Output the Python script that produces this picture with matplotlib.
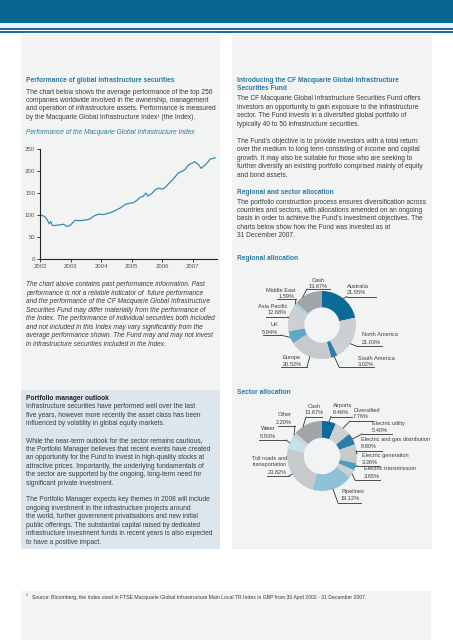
import matplotlib
matplotlib.use("Agg")
import matplotlib.pyplot as plt
from matplotlib.patches import Rectangle
from matplotlib.lines import Line2D
import numpy as np

plt.rcParams['font.family'] = ['Liberation Sans', 'DejaVu Sans']

W, H = 453, 640

# --- data -------------------------------------------------------------
years = [2002.00, 2002.14, 2002.22, 2002.30, 2002.35, 2002.41, 2002.60, 2002.77,
         2002.88, 2002.98, 2003.15, 2003.31, 2003.53, 2003.64, 2003.75, 2003.91,
         2004.08, 2004.30, 2004.46, 2004.63, 2004.79, 2004.95, 2005.06, 2005.17,
         2005.28, 2005.39, 2005.47, 2005.53, 2005.67, 2005.77, 2005.88, 2005.99,
         2006.10, 2006.21, 2006.32, 2006.43, 2006.54, 2006.65, 2006.76, 2006.87,
         2007.07, 2007.20, 2007.28, 2007.42, 2007.58, 2007.74]
index_vals = [100.5, 97, 91, 80, 85, 76, 77, 79,
              74, 76, 88, 87, 89, 91, 97, 102,
              101, 105, 110, 116, 124, 127, 128, 133,
              140, 143, 150, 143, 149, 157, 161, 159,
              162, 171, 178, 187, 196, 199, 204, 214,
              221, 214, 206, 214, 227, 230]
year_ticks = [2002, 2003, 2004, 2005, 2006, 2007]
value_ticks = [0, 50, 100, 150, 200, 250]

region_names = ["Australia", "North America", "South America", "Europe", "UK",
                "Asia Pacific", "Middle East", "Cash"]
region_pct = [21.55, 21.03, 3.02, 20.52, 5.94, 12.68, 1.59, 13.67]
region_cols = ['#0b6a97', '#cdd0d2', '#2a7fa8', '#c7cacd', '#5ea8c8',
               '#cdd0d2', '#a6cfe0', '#a2a5a7']

sector_names = ["Airports", "Diversified", "Electric utility",
                "Electric and gas distribution", "Electric generation",
                "Electric transmission", "Pipelines",
                "Toll roads and\ntransportation", "Water", "Other", "Cash"]
sector_pct = [6.46, 7.76, 5.40, 8.80, 3.36, 3.65, 19.12, 23.82, 5.93, 2.20, 13.67]
sector_cols = ['#0b6a97', '#cdd0d2', '#2a7fa8', '#c7cacd', '#4f9cc2', '#cdd0d2',
               '#8fc1d9', '#c7cacd', '#c5e1eb', '#cdd0d2', '#a2a5a7']

# --- helpers (pixel coords, y from top) ----------------------------------
fig = plt.figure(figsize=(W / 100, H / 100), dpi=100)
fig.patch.set_facecolor('white')

def fx(x):
    return x / W

def fy(y):
    return 1 - y / H

def box(x0, y0, x1, y1, color):
    fig.add_artist(Rectangle((fx(x0), fy(y1)), fx(x1 - x0), (y1 - y0) / H,
                             transform=fig.transFigure, color=color, lw=0, zorder=0))

def seg(pts, color='#333333', lw=0.6):
    xs = [fx(p[0]) for p in pts]
    ys = [fy(p[1]) for p in pts]
    fig.add_artist(Line2D(xs, ys, transform=fig.transFigure, color=color, lw=lw))

BODY = '#3c3c3c'
TEAL = '#2a7aa6'
FS = 4.75
STEP = 8.45

def lines(x, y0, txt, **kw):
    kw.setdefault('fontsize', FS)
    kw.setdefault('color', BODY)
    for i, t in enumerate(txt):
        if t:
            fig.text(fx(x), fy(y0 + i * STEP), t, va='center', ha='left', **kw)

# --- page furniture -------------------------------------------------------
box(0, 0, W, 23, '#0a6691')
box(0, 23, W, 28, '#e3f3f9')
box(0, 28, W, 29.5, '#1f6e96')
box(0, 31, W, 32.5, '#1f6e96')
box(21, 35, 220, 390, '#f2f3f3')
box(21, 390, 220, 549, '#dce6ec')
box(232, 35, 432, 549, '#f2f3f3')
box(21, 591, 431, 640, '#f2f3f3')

# --- left column ----------------------------------------------------------
lines(26, 80, ["Performance of global infrastructure securities"], color=TEAL,
      fontweight='bold')
lines(26, 92, ["The chart below shows the average performance of the top 256",
               "companies worldwide involved in the ownership, management",
               "and operation of infrastructure assets. Performance is measured",
               "by the Macquarie Global Infrastructure Index\u00b9 (the Index)."])
lines(26, 133, ["Performance of the Macquarie Global Infrastructure Index"],
      color=TEAL, style='italic')

ax = fig.add_axes([fx(40), fy(259), 177 / W, 110 / H])
ax.patch.set_alpha(0)
ax.plot(years, index_vals, color='#3b8bab', lw=0.9)
ax.set_xlim(2002, 2007.8)
ax.set_ylim(0, 250)
ax.set_xticks(year_ticks)
ax.set_yticks(value_ticks)
for s in ['top', 'right']:
    ax.spines[s].set_visible(False)
for s in ['left', 'bottom']:
    ax.spines[s].set_linewidth(0.8)
    ax.spines[s].set_color('#222222')
ax.tick_params(labelsize=4.3, colors='#222222', labelcolor='#555555',
               length=2, width=0.6, pad=1.5)

lines(26, 285, ["The chart above contains past performance information. Past",
                "performance is not a reliable indicator of  future performance",
                "and the performance of the CF Macquarie Global Infrastructure",
                "Securities Fund may differ materially from the performance of",
                "the Index. The performance of individual securities both included",
                "and not included in this Index may vary significantly from the",
                "average performance shown. The Fund may and may not invest",
                "in infrastructure securities included in the Index."],
      style='italic')

lines(26, 398, ["Portfolio manager outlook"], color='#222222', fontweight='bold')
lines(26, 407, ["Infrastructure securities have performed well over the last",
                "five years, however more recently the asset class has been",
                "influenced by volatility in global equity markets.",
                "",
                "While the near-term outlook for the sector remains cautious,",
                "the Portfolio Manager believes that recent events have created",
                "an opportunity for the Fund to invest in high-quality stocks at",
                "attractive prices. Importantly, the underlying fundamentals of",
                "the sector are supported by the ongoing, long-term need for",
                "significant private investment.",
                "",
                "The Portfolio Manager expects key themes in 2008 will include",
                "ongoing investment in the infrastructure projects around",
                "the world, further government privatisations and new initial",
                "public offerings. The substantial capital raised by dedicated",
                "infrastructure investment funds in recent years is also expected",
                "to have a positive impact."])

# --- right column ---------------------------------------------------------
lines(237, 80, ["Introducing the CF Macquarie Global Infrastructure",
                "Securities Fund"], color=TEAL, fontweight='bold')
lines(237, 99, ["The CF Macquarie Global Infrastructure Securities Fund offers",
                "investors an opportunity to gain exposure to the infrastructure",
                "sector. The Fund invests in a diversified global portfolio of",
                "typically 40 to 50 infrastructure securities.",
                "",
                "The Fund\u2019s objective is to provide investors with a total return",
                "over the medium to long term consisting of income and capital",
                "growth. It may also be suitable for those who are seeking to",
                "further diversify an existing portfolio comprised mainly of equity",
                "and bond assets."])
lines(237, 192, ["Regional and sector allocation"], color=TEAL, fontweight='bold')
lines(237, 202, ["The portfolio construction process ensures diversification across",
                 "countries and sectors, with allocations amended on an ongoing",
                 "basis in order to achieve the Fund\u2019s investment objectives. The",
                 "charts below show how the Fund was invested as at",
                 "31 December 2007."])
lines(237, 259, ["Regional allocation"], color=TEAL, fontweight='bold')
lines(237, 393, ["Sector allocation"], color=TEAL, fontweight='bold')

# --- donuts ---------------------------------------------------------------
LFS = 4.1

def donut(cx, cy, r, vals, cols, names, layout):
    dax = fig.add_axes([fx(cx - r), fy(cy + r), 2 * r / W, 2 * r / H])
    wedges, _ = dax.pie(vals, colors=cols, startangle=90, counterclock=False,
                        radius=1, wedgeprops=dict(width=0.48, lw=0))
    dax.set_xlim(-1, 1)
    dax.set_ylim(-1, 1)
    dax.axis('off')
    for w, name, val, lay in zip(wedges, names, vals, layout):
        tx, ty, ha, ux0, ux1, uy, end, tip = lay
        th = np.deg2rad((w.theta1 + w.theta2) / 2 + tip)
        px = cx + r * np.cos(th)
        py = cy - r * np.sin(th)
        nl = name.count("\n")
        fig.text(fx(tx), fy(ty + 3.5 * nl), name, ha=ha, va='center', fontsize=LFS,
                 color=BODY, linespacing=1.2)
        fig.text(fx(tx), fy(ty + 7 * (nl + 1)), f"{val:.2f}%", ha=ha, va='center',
                 fontsize=LFS, color=BODY)
        seg([(ux0, uy), (ux1, uy)])
        ex = ux0 if end == 'l' else ux1
        seg([(ex, uy), (px, py)])

# text x, text y, align, underline x0, x1, y, which end joins, angle tweak
region_layout = [
    (347, 286, 'left', 347, 376, 296.5, 'l', 0),
    (362, 335, 'left', 356, 382, 346, 'l', -8),
    (358, 358, 'left', 339, 374, 367, 'l', 0),
    (292, 357, 'center', 281, 307, 367, 'r', 0),
    (278, 325, 'right', 263, 280, 335, 'r', 0),
    (287, 306, 'right', 266, 288, 317, 'r', 0),
    (295, 290, 'right', 277, 296, 299, 'r', 0),
    (318, 280, 'center', 307, 330, 289, 'l', 10),
]
sector_layout = [
    (333, 405, 'left', 331, 352, 416.5, 'l', 0),
    (353, 410, 'left', 350, 373, 421, 'l', 0),
    (372, 423, 'left', 362, 392, 434, 'l', 0),
    (361, 440, 'left', 356, 382, 451, 'l', 0),
    (362, 455, 'left', 357, 380, 465.5, 'l', 0),
    (364, 469, 'left', 355, 380, 480, 'l', 0),
    (341, 492, 'left', 338, 361, 503, 'l', 0),
    (287, 458, 'right', 267, 289, 476, 'r', 0),
    (276, 429, 'right', 259, 286, 440, 'r', 0),
    (292, 415, 'right', 278, 295, 426, 'r', 0),
    (314, 406, 'center', 306, 322, 417, 'l', 8),
]
donut(322, 325, 34, region_pct, region_cols, region_names, region_layout)
donut(322, 456, 35, sector_pct, sector_cols, sector_names, sector_layout)

# --- footnote -------------------------------------------------------------
fig.text(fx(26), fy(595.5), "1", fontsize=2.6, color=BODY, va='center')
fig.text(fx(32), fy(597), "Source: Bloomberg, the Index used in FTSE Macquarie Global "
         "Infrastructure Main Local TR Index in GBP from 30 April 2002 - 31 December 2007.",
         fontsize=3.7, color=BODY, va='center')

fig.savefig("out.png", dpi=100, facecolor='white')
